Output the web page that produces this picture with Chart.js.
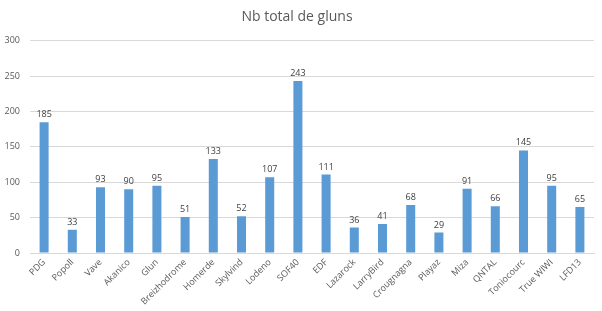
<!DOCTYPE html>
<html>
<head>
<meta charset="utf-8">
<script src="https://cdn.jsdelivr.net/npm/chart.js@4/dist/chart.umd.min.js"></script>
<style>
  html, body { margin: 0; padding: 0; background: #fff; }
</style>
</head>
<body>
<canvas id="chart" width="602" height="311"></canvas>
<script>
    // Data
    var groupes = ["PDG", "Popoll", "Vave", "Akanico", "Glun", "Breizhodrome", "Homerde", "Skylvind",
        "Lodeno", "SOF40", "EDF", "Lazarock", "LarryBird", "Crougnagna", "Playaz", "Miza",
        "QNTAL", "Toniocourc", "True WIWI", "LFD13"];
    var gluns = [185, 33, 93, 90, 95, 51, 133, 52, 107, 243, 111, 36, 41, 68, 29, 91, 66, 145, 95, 65];
    var yTicks = [0, 50, 100, 150, 200, 250, 300];

    var fontFamily = "'Open Sans', 'Liberation Sans', sans-serif";

    // Value labels above each bar
    var valueLabels = {
        id: "valueLabels",
        afterDatasetsDraw: function (chart) {
            var ctx = chart.ctx;
            var meta = chart.getDatasetMeta(0);
            ctx.save();
            ctx.font = "9px " + fontFamily;
            ctx.fillStyle = "#404040";
            ctx.textAlign = "center";
            ctx.textBaseline = "bottom";
            meta.data.forEach(function (bar, i) {
                ctx.fillText(gluns[i], bar.x, bar.y - 3);
            });
            ctx.restore();
        }
    };

    var ctx = document.getElementById("chart").getContext("2d");
    var myChart = new Chart(ctx, {
        type: "bar",
        data: {
            labels: groupes,
            datasets: [{
                label: "Nb total de gluns",
                data: gluns,
                backgroundColor: "#5B9BD5",
                categoryPercentage: 1,
                barPercentage: 0.32
            }]
        },
        options: {
            responsive: false,
            animation: false,
            devicePixelRatio: 1,
            layout: { padding: { left: 0, right: 8, top: 0, bottom: 0 } },
            plugins: {
                legend: { display: false },
                tooltip: { enabled: false },
                title: {
                    display: true,
                    text: "Nb total de gluns",
                    color: "#595959",
                    font: { family: fontFamily, size: 14, weight: "normal" },
                    padding: { top: 9, bottom: 15 }
                }
            },
            scales: {
                x: {
                    grid: { display: false, drawTicks: false },
                    border: { display: true, color: "#D9D9D9" },
                    ticks: {
                        color: "#595959",
                        font: { family: fontFamily, size: 9 },
                        minRotation: 45,
                        maxRotation: 45,
                        autoSkip: false,
                        padding: 4
                    },
                    afterFit: function (scale) { scale.height = 58; }
                },
                y: {
                    min: 0,
                    max: 300,
                    afterBuildTicks: function (scale) {
                        scale.ticks = yTicks.map(function (v) { return { value: v }; });
                    },
                    grid: { color: "#D9D9D9", drawTicks: false },
                    border: { display: false },
                    ticks: {
                        color: "#595959",
                        font: { family: fontFamily, size: 9 },
                        padding: 10
                    },
                    afterFit: function (scale) { scale.width = 30; }
                }
            }
        },
        plugins: [valueLabels]
    });
</script>
</body>
</html>
